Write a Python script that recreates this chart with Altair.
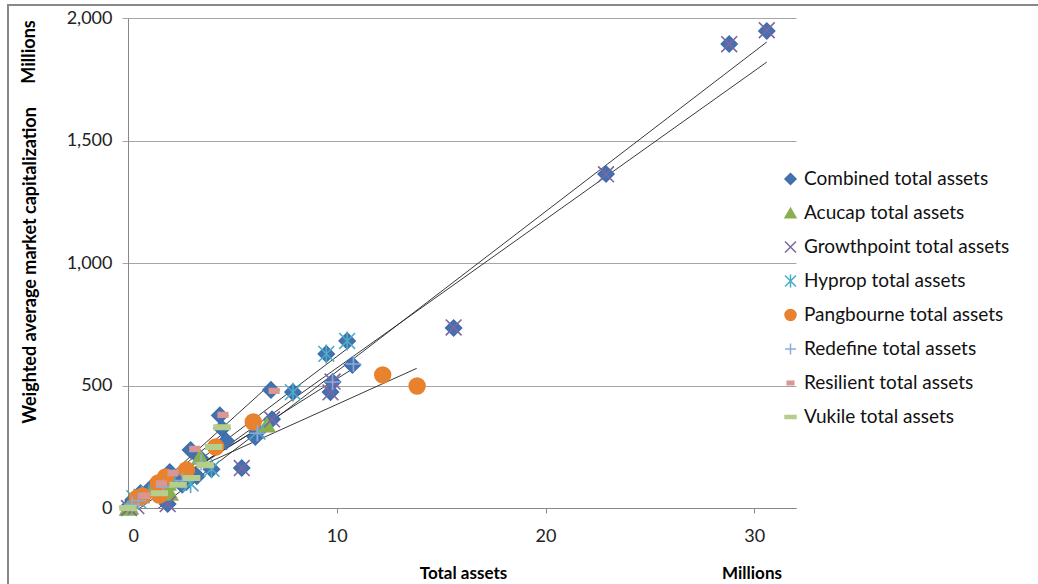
import altair as alt
import pandas as pd

series_order = ["Combined total assets", "Acucap total assets", "Growthpoint total assets",
                "Hyprop total assets", "Pangbourne total assets", "Redefine total assets",
                "Resilient total assets", "Vukile total assets"]

combined_x = [30.6, 28.8, 22.9, 15.6, 10.5, 9.5, 10.75, 9.8, 9.7, 7.9, 6.85, 6.9, 6.1, 6.2, 5.45,
              4.4, 4.5, 4.7, 4.0, 3.45, 3.0, 2.8, 2.0, 2.3, 1.9, 1.5, 1.15, 0.6, 0.25, 0.0, 3.3, 2.6]
combined_y = [1947, 1894, 1363, 735, 682, 629, 584, 514, 473, 473, 482, 362, 290, 310, 163,
              378, 325, 273, 158, 204, 237, 106, 147, 115, 16, 75, 86, 61, 33, 4, 130, 95]
acucap_x = [6.65, 3.45, 1.9, 1.2, 2.0, 0.1, 0.0]
acucap_y = [339, 208, 102, 73, 61, 4, 0]
growthpoint_x = [30.6, 28.8, 22.9, 15.6, 9.7, 9.8, 6.9, 5.45, 1.9, 0.05, 0.4]
growthpoint_y = [1950, 1893, 1362, 737, 472, 516, 362, 163, 16, 0, 8]
hyprop_x = [10.5, 9.5, 7.9, 6.2, 4.0, 3.0, 2.2, 1.0, 0.5, 0.3]
hyprop_y = [682, 629, 473, 312, 160, 100, 120, 57, 30, 40]
pangbourne_x = [12.2, 13.85, 6.0, 4.2, 2.8, 1.8, 1.45, 1.5, 0.7, 0.45]
pangbourne_y = [543, 498, 351, 249, 155, 127, 102, 53, 49, 41]
redefine_x = [10.8, 9.8, 6.2, 3.5, 2.6, 1.7, 0.5, 0.2]
redefine_y = [588, 514, 305, 185, 112, 85, 30, 15]
resilient_x = [7.0, 4.55, 3.2, 2.15, 1.6, 0.8]
resilient_y = [478, 380, 241, 143, 100, 50]
vukile_x = [4.5, 4.1, 3.7, 3.05, 2.4, 1.5, 0.0]
vukile_y = [330, 249, 175, 122, 95, 60, 0]

# linear trend lines (start / end)
trend_series = ["Combined", "Growthpoint", "Resilient", "Hyprop", "Pangbourne", "Redefine", "Acucap", "Vukile"]
trend_x0 = [0.0, 0.0, 0.2, 0.3, 0.45, 0.2, 0.0, 0.0]
trend_y0 = [-35, -96, -5, -5, 55, 0, 0, -10]
trend_x1 = [30.6, 30.6, 6.87, 10.47, 13.83, 10.8, 6.65, 4.5]
trend_y1 = [1820, 1902, 509, 648, 570, 570, 345, 300]

x_ticks = [0, 10, 20, 30]
y_ticks = [0, 500, 1000, 1500, 2000]

strokes = ["#3F6EAE", "#8AB04E", "#8064A2", "#4BACC6", "#E8822E", "#8EAADB", "#D99694", "#B5CE8C"]
fills = ["#4472AE", "#8AB04E", "transparent", "transparent", "#E8822E", "transparent", "#D99694", "#B5CE8C"]
shapes = ["diamond", "triangle-up", "M-1,-1L1,1M-1,1L1,-1", "M-1,-1L1,1M-1,1L1,-1M0,-1.2L0,1.2",
          "circle", "M-1,0L1,0M0,-1L0,1", "M-0.6,-0.3L0.6,-0.3L0.6,0.3L-0.6,0.3Z",
          "M-1,-0.28L1,-0.28L1,0.28L-1,0.28Z"]

rows = []
for name, xs, ys in [(series_order[0], combined_x, combined_y),
                     (series_order[1], acucap_x, acucap_y),
                     (series_order[2], growthpoint_x, growthpoint_y),
                     (series_order[3], hyprop_x, hyprop_y),
                     (series_order[4], pangbourne_x, pangbourne_y),
                     (series_order[5], redefine_x, redefine_y),
                     (series_order[6], resilient_x, resilient_y),
                     (series_order[7], vukile_x, vukile_y)]:
    for xv, yv in zip(xs, ys):
        rows.append({"series": name, "x": xv, "y": yv, "order": series_order.index(name)})
pts = pd.DataFrame(rows)

trend = pd.DataFrame({"s": trend_series, "x0": trend_x0, "y0": trend_y0, "x1": trend_x1, "y1": trend_y1})
one = pd.DataFrame({"k": [0]})

FONT = "Lato"
xscale = alt.Scale(domain=[0, 32], nice=False, zero=False)
yscale = alt.Scale(domain=[0, 2000], nice=False)

xaxis = alt.Axis(values=x_ticks, title="Total assets", grid=False, labelFontSize=18, labelPadding=14,
                 titleFontSize=17, titleFontWeight="bold", titleX=335, titleY=65, titleBaseline="middle",
                 titleColor="#000", domainColor="#888", tickColor="#888", tickSize=5, labelColor="#222",
                 labelFont=FONT, titleFont=FONT)
yaxis = alt.Axis(values=y_ticks, title="Weighted average market capitalization", format=",.0f",
                 grid=True, gridColor="#A6A6A6", labelFontSize=18, labelPadding=10, tickSize=6,
                 domainColor="#888", tickColor="#A6A6A6", labelColor="#222", labelFont=FONT,
                 titleFont=FONT, titleFontSize=18, titleFontWeight="bold", titleColor="#000",
                 titleX=-98, titleY=247, titleAngle=270, titleBaseline="middle")

lines = alt.Chart(trend).mark_rule(color="#222", strokeWidth=0.9, clip=True).encode(
    x=alt.X("x0:Q", scale=xscale, axis=xaxis),
    y=alt.Y("y0:Q", scale=yscale, axis=yaxis),
    x2="x1:Q", y2="y1:Q",
)

points = alt.Chart(pts).mark_point(opacity=1, filled=False, size=250, strokeWidth=1.6).encode(
    x=alt.X("x:Q", scale=xscale),
    y=alt.Y("y:Q", scale=yscale),
    stroke=alt.Stroke("series:N", scale=alt.Scale(domain=series_order, range=strokes), legend=alt.Legend(title=None)),
    fill=alt.Fill("series:N", scale=alt.Scale(domain=series_order, range=fills), legend=alt.Legend(title=None)),
    shape=alt.Shape("series:N", scale=alt.Scale(domain=series_order, range=shapes), legend=alt.Legend(title=None)),
    order=alt.Order("order:Q"),
)

millions_y = alt.Chart(one).mark_text(text="Millions", angle=270, font=FONT, fontSize=18,
                                      fontWeight="bold", color="#000", baseline="middle").encode(
    x=alt.value(-98), y=alt.value(34))
millions_x = alt.Chart(one).mark_text(text="Millions", font=FONT, fontSize=17,
                                      fontWeight="bold", color="#000", baseline="middle").encode(
    x=alt.value(624), y=alt.value(556))
frame = alt.Chart(one).mark_rect(fill="transparent", stroke="#888", strokeWidth=2).encode(
    x=alt.value(-120), y=alt.value(-13), x2=alt.value(940), y2=alt.value(620))

chart = alt.layer(frame, lines, points, millions_y, millions_x).properties(
    width=668, height=490,
    autosize=alt.AutoSizeParams(type="none"),
    padding={"left": 128, "top": 18, "right": 242, "bottom": 76},
    background="white",
).configure_view(stroke=None).configure_legend(
    orient="none", legendX=653, legendY=151, labelFontSize=19, labelFont=FONT, labelColor="#111",
    symbolSize=120, rowPadding=14, labelOffset=4, symbolStrokeWidth=1.5, clipHeight=20, labelLimit=300,
).configure_axis(labelFont=FONT, titleFont=FONT)

chart.save("out.html", embed_options={"renderer": "svg", "actions": False})
